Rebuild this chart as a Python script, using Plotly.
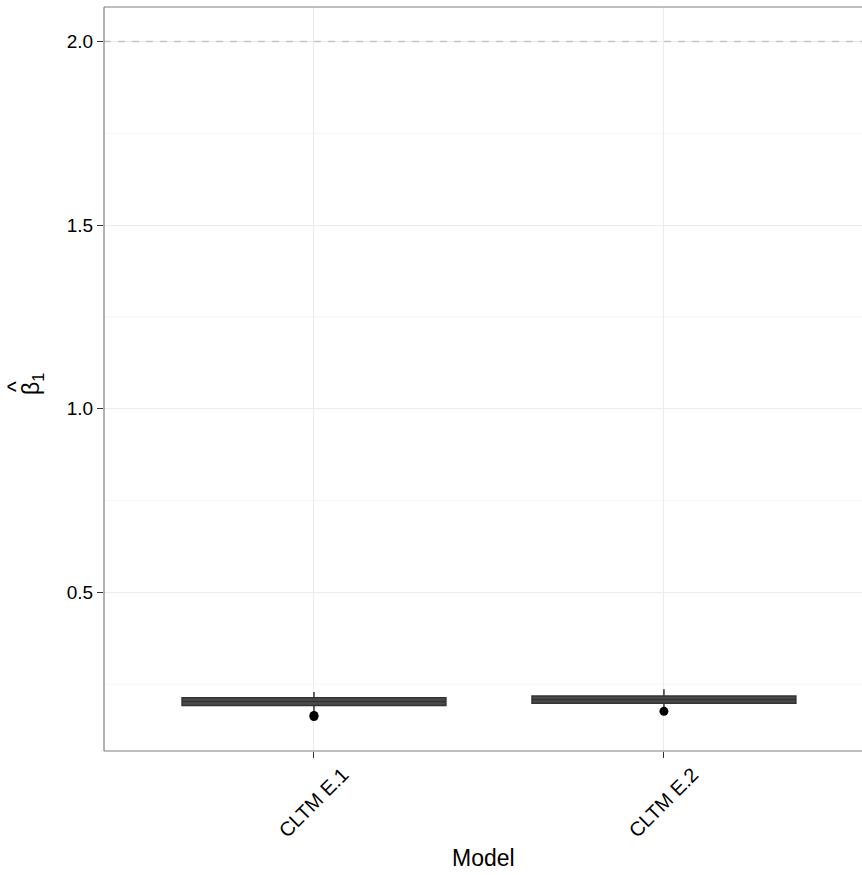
import plotly.graph_objects as go

# Box summary statistics for the slope estimate, per model
models = ["CLTM E.1", "CLTM E.2"]
lower_fence = [0.172, 0.184]
q1 = [0.192, 0.198]
median = [0.203, 0.208]
q3 = [0.213, 0.218]
upper_fence = [0.229, 0.236]
outliers = [[0.162, 0.165], [0.176]]
true_value = 2.0

y_ticks = [0.5, 1.0, 1.5, 2.0]
y_minor = [0.25, 0.75, 1.25, 1.75]

pos = list(range(len(models)))
font_family = "Liberation Sans, Arial, sans-serif"

fig = go.Figure()

fig.add_trace(go.Box(
    x=pos,
    q1=q1, median=median, q3=q3,
    lowerfence=lower_fence, upperfence=upper_fence,
    width=0.754,
    whiskerwidth=0,
    fillcolor="#4a4a4a",
    line=dict(color="#333333", width=1.5),
    boxpoints=False,
    showlegend=False,
))

ox, oy = [], []
for i, vals in enumerate(outliers):
    for v in vals:
        ox.append(pos[i])
        oy.append(v)
fig.add_trace(go.Scatter(
    x=ox, y=oy, mode="markers",
    marker=dict(color="black", size=9),
    showlegend=False, hoverinfo="skip",
))

# reference line at the true coefficient
fig.add_shape(type="line", xref="paper", yref="y", x0=0, x1=1,
              y0=true_value, y1=true_value,
              line=dict(color="#c4c4c4", width=1.4, dash="7px,7px"), layer="above")

# minor gridlines
for v in y_minor:
    fig.add_shape(type="line", xref="paper", yref="y", x0=0, x1=1, y0=v, y1=v,
                  line=dict(color="#f5f5f5", width=1), layer="below")

# panel border (top, left, bottom)
border = dict(color="#7f7f7f", width=1.2)
fig.add_shape(type="line", xref="paper", yref="paper", x0=0, x1=1, y0=1, y1=1, line=border)
fig.add_shape(type="line", xref="paper", yref="paper", x0=0, x1=0, y0=0, y1=1, line=border)
fig.add_shape(type="line", xref="paper", yref="paper", x0=0, x1=1, y0=0, y1=0, line=border)

# category labels, rotated and centred under each tick
for p, m in zip(pos, models):
    fig.add_annotation(x=p, xref="x", y=-0.0685, yref="paper",
                       text=m, textangle=-45, showarrow=False,
                       xanchor="center", yanchor="middle",
                       font=dict(size=20, color="black"))

# axis titles
fig.add_annotation(x=0.5, xref="paper", y=-0.1438, yref="paper",
                   text="Model", showarrow=False,
                   xanchor="center", yanchor="middle",
                   font=dict(size=23, color="black"))
fig.add_annotation(x=(32 - 104) / 758, xref="paper", y=(751 - 384) / 744, yref="paper",
                   text="β<sub>1</sub>", textangle=-90, showarrow=False,
                   xanchor="center", yanchor="middle",
                   font=dict(size=23, color="black"))
fig.add_annotation(x=(16 - 104) / 758, xref="paper", y=(751 - 387) / 744, yref="paper",
                   text="^", textangle=-90, showarrow=False,
                   xanchor="center", yanchor="middle",
                   font=dict(size=23, color="black"))

fig.update_layout(
    width=862, height=875,
    margin=dict(l=104, r=0, t=7, b=124),
    paper_bgcolor="white", plot_bgcolor="white",
    font=dict(family=font_family, color="black"),
    xaxis=dict(
        range=[-0.6, 1.566],
        tickmode="array", tickvals=pos, showticklabels=False,
        ticks="outside", ticklen=6, tickcolor="#333333", tickwidth=1.2,
        showgrid=True, gridcolor="#ebebeb", gridwidth=1,
        zeroline=False, showline=False,
    ),
    yaxis=dict(
        range=[0.068, 2.094],
        tickmode="array", tickvals=y_ticks, ticktext=["0.5", "1.0", "1.5", "2.0"],
        tickfont=dict(size=19, color="black"),
        ticks="outside", ticklen=6, tickcolor="#333333", tickwidth=1.2,
        showgrid=True, gridcolor="#ebebeb", gridwidth=1,
        zeroline=False, showline=False,
    ),
)

fig.write_html("out.html")
